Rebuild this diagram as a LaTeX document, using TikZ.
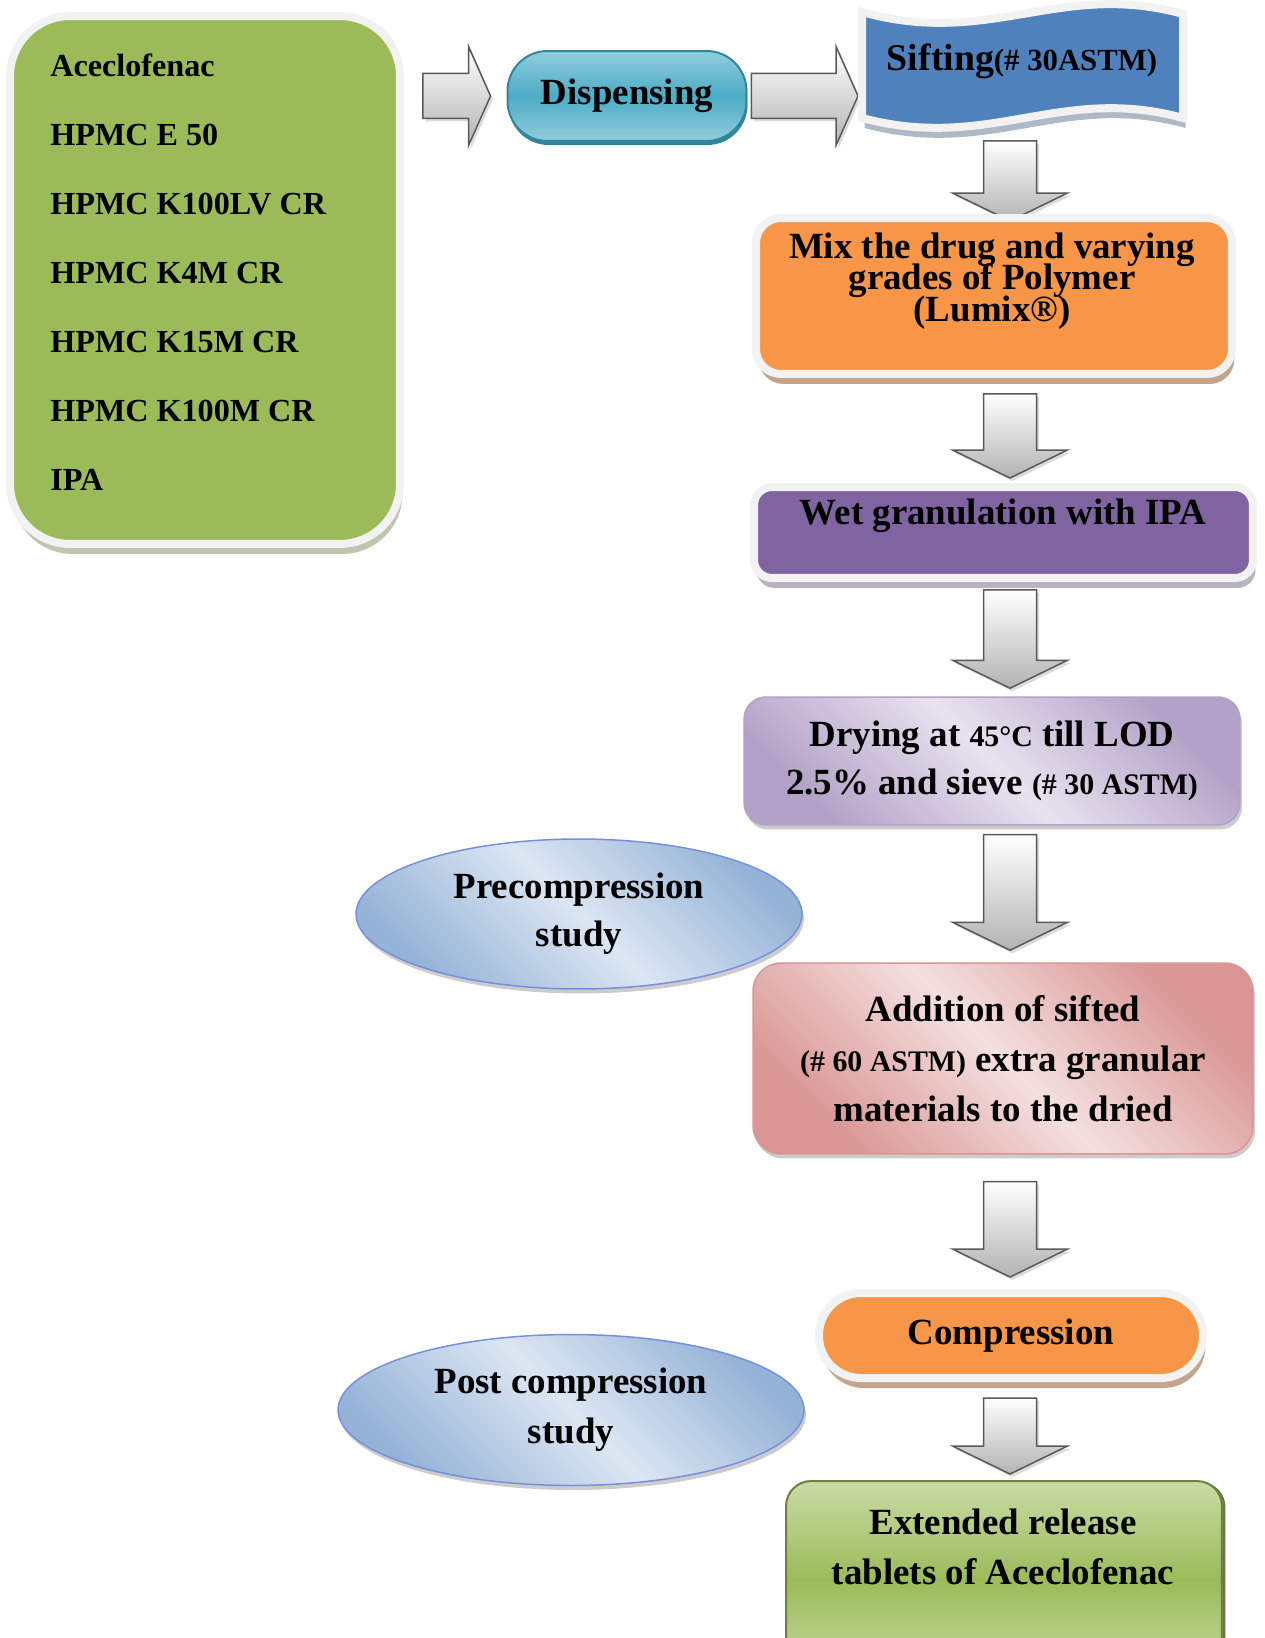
\documentclass[tikz,border=0pt]{standalone}
\usepackage{fontspec}
\setmainfont{Liberation Serif}
\usepackage{xcolor}
\usepackage{tikz}
\usetikzlibrary{arrows.meta, positioning, calc, shapes, shadows, backgrounds}

\definecolor{verde}{HTML}{9BBB59}
\definecolor{verdechiaro}{HTML}{C9DBA5}
\definecolor{azzurro}{HTML}{4BACC6}
\definecolor{azzurrochiaro}{HTML}{92CDDC}
\definecolor{azzurroscuro}{HTML}{31859C}
\definecolor{blu}{HTML}{4F81BD}
\definecolor{arancio}{HTML}{F79646}
\definecolor{viola}{HTML}{8064A2}
\definecolor{lilla}{HTML}{B3A2C7}
\definecolor{lillachiaro}{HTML}{E8E3EF}
\definecolor{rosa}{HTML}{D99694}
\definecolor{rosachiaro}{HTML}{F4E0E0}
\definecolor{celeste}{HTML}{95B3D7}
\definecolor{celestechiaro}{HTML}{DCE6F2}
\definecolor{bordo}{HTML}{F2F2F2}
\definecolor{ombra}{HTML}{9A9A9A}

\newcommand{\piccolo}[1]{{\fontsize{17}{20}\selectfont #1}}
\newcommand{\stretto}{\setlength{\lineskiplimit}{-20pt}}

\tikzset{
    testo/.style={font=\bfseries\fontsize{21}{25}\selectfont, align=center, inner sep=0pt},
    interlinea/.style={font=\bfseries\fontsize{21}{#1}\selectfont\stretto},
    voci/.style={font=\bfseries\fontsize{18.3}{39.3}\selectfont, align=left, inner sep=0pt},
    cornice/.style={draw=bordo, line width=0.16cm,
        drop shadow={shadow xshift=0.05cm, shadow yshift=-0.2cm, opacity=0.55, fill=#1}},
    cornice/.default=ombra,
    diagonale/.style 2 args={left color=#1, right color=#1, middle color=#2, shading angle=-45},
    ombretta/.style={drop shadow={shadow xshift=0.04cm, shadow yshift=-0.09cm, opacity=0.5, fill=ombra}},
    frecciagiu/.style={draw=black!65, line width=0.03cm, top color=white, bottom color=gray!60,
        drop shadow={shadow xshift=0.05cm, shadow yshift=-0.06cm, opacity=0.35, fill=ombra},
        to path={let \p1=(\tikztostart), \p2=(\tikztotarget) in
            (\x1-0.53cm,\y1) -- (\x1+0.53cm,\y1) -- (\x1+0.53cm,\y2+0.56cm) -- (\x1+1.15cm,\y2+0.56cm)
            -- (\x1,\y2) -- (\x1-1.15cm,\y2+0.56cm) -- (\x1-0.53cm,\y2+0.56cm) -- cycle}},
    frecciadx/.style={draw=black!65, line width=0.03cm, top color=white, bottom color=gray!60,
        drop shadow={shadow xshift=0.05cm, shadow yshift=-0.06cm, opacity=0.35, fill=ombra},
        to path={let \p1=(\tikztostart), \p2=(\tikztotarget) in
            (\x1,\y1+0.45cm) -- (\x2-0.44cm,\y1+0.45cm) -- (\x2-0.44cm,\y1+0.99cm) -- (\x2,\y1)
            -- (\x2-0.44cm,\y1-0.99cm) -- (\x2-0.44cm,\y1-0.45cm) -- (\x1,\y1-0.45cm) -- cycle}},
}

\begin{document}
\begin{tikzpicture}[x=0.02cm, y=-0.02cm]
    \useasboundingbox (0,0) rectangle (1264,1638);

    % Ingredienti
    \node[cornice=verde!40!gray, fill=verde, rounded corners=1.2cm, minimum width=7.8cm, minimum height=10.56cm] (lista) at (205,280) {};
    \node[voci, anchor=west] (voci) at (50,272) {Aceclofenac\\HPMC E 50\\HPMC K100LV CR\\HPMC K4M CR\\HPMC K15M CR\\HPMC K100M CR\\IPA};

    % Dispensing
    \node[testo, draw=azzurroscuro, line width=0.04cm, top color=azzurrochiaro, bottom color=azzurrochiaro, middle color=azzurro,
          rounded corners=0.8cm, minimum width=4.78cm, minimum height=1.8cm,
          drop shadow={fill=azzurroscuro, opacity=1, shadow xshift=0.02cm, shadow yshift=-0.08cm}] (disp) at (627,96) {Dispensing};

    % Sifting (nastro ondulato)
    \draw[cornice=blu!40!gray, fill=blu] (862,12) .. controls (990,48) and (1060,-20) .. (1183,14) -- (1183,118)
        .. controls (1060,84) and (990,152) .. (862,118) -- cycle;
    \node[testo, font=\bfseries\fontsize{21.5}{25}\selectfont] (sift) at (1022,61) {Sifting{\fontsize{17.5}{20}\selectfont(\# 30ASTM)}};
    \coordinate (siftbase) at (1010,141);
    \coordinate (siftovest) at (858,97);
    \coordinate (ax) at (1010,0);

    % Miscelazione
    \node[cornice=arancio!60!black, fill=arancio, rounded corners=0.5cm, minimum width=9.52cm, minimum height=3.12cm] (mix) at (994,296) {};
    \node[testo, interlinea=18] (mixtxt) at (992,281) {Mix the drug and varying\\grades of Polymer\\(Lumix®)};

    % Granulazione
    \node[cornice=viola!50!gray, fill=viola, rounded corners=0.36cm, minimum width=9.98cm, minimum height=1.82cm] (wet) at (1003.5,532.5) {};
    \node[testo] (wettxt) at (1003,516) {Wet granulation with IPA};

    % Essiccamento
    \node[testo, interlinea=27.3, draw=lilla, line width=0.03cm, diagonale={lilla}{lillachiaro}, ombretta,
          rounded corners=0.44cm, minimum width=9.92cm, minimum height=2.56cm] (dry) at (992,761)
          {Drying at \piccolo{45°C} till LOD\\2.5\% and sieve \piccolo{(\# 30 ASTM)}};

    % Studi
    \node[ellipse, testo, interlinea=27.3, draw=celeste!80!blue, line width=0.03cm, diagonale={celeste}{celestechiaro}, ombretta,
          minimum width=8.92cm, minimum height=3cm] (pre) at (579,914) {Precompression\\study};
    \node[ellipse, testo, interlinea=28.45, draw=celeste!80!blue, line width=0.03cm, diagonale={celeste}{celestechiaro}, ombretta,
          minimum width=9.32cm, minimum height=3.02cm] (post) at (571,1410) {Post compression\\study};

    % Aggiunta extragranulare
    \node[testo, interlinea=28.45, draw=rosa, line width=0.03cm, diagonale={rosa}{rosachiaro}, ombretta,
          rounded corners=0.56cm, minimum width=10cm, minimum height=3.82cm] (add) at (1003,1058.5)
          {Addition of sifted\\\piccolo{(\# 60 ASTM)} extra granular\\materials to the dried};

    % Compressione
    \node[testo, cornice=arancio!60!black, fill=arancio, rounded corners=0.84cm, minimum width=7.68cm, minimum height=1.7cm] (comp) at (1011,1335.5) {Compression};

    % Prodotto finale
    \node[draw=verde!70!black, line width=0.04cm, top color=verdechiaro, bottom color=verdechiaro, middle color=verde,
          rounded corners=0.5cm, minimum width=8.72cm, minimum height=3.98cm,
          drop shadow={fill=verde!45!black, opacity=0.8, shadow xshift=0.07cm, shadow yshift=-0.02cm}] (ext) at (1004,1580.5) {};
    \node[testo, interlinea=28.45] (exttxt) at (1003,1547) {Extended release\\tablets of Aceclofenac};

    % Frecce
    \begin{scope}[on background layer]
        \draw[frecciadx] ($(lista.east |- disp.west)+(19,0)$) to ($(disp.west)+(-16,0)$);
        \draw[frecciadx] ($(disp.east)+(4,0)$) to (siftovest);
        \draw[frecciagiu] (siftbase) to ($(mix.north -| ax)+(0,7)$);
        \foreach \da/\db/\sa/\sb in {mix/wet/16/-5, wet/dry/8/-8, dry/add/9/-12, add/comp/27/-12, comp/ext/16/-6}
            \draw[frecciagiu] ($(\da.south -| ax)+(0,\sa)$) to ($(\db.north -| ax)+(0,\sb)$);
    \end{scope}
\end{tikzpicture}
\end{document}
